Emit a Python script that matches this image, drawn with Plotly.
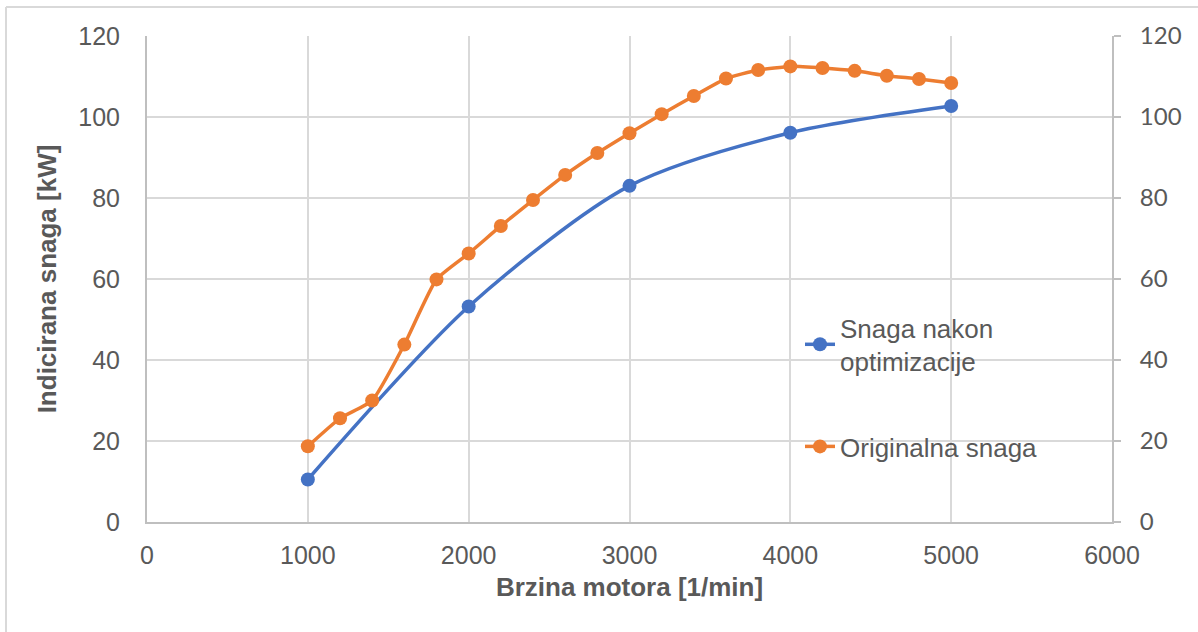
import plotly.graph_objects as go

# Engine speed [1/min] and indicated power [kW]
rpm_opt = [1000, 2000, 3000, 4000, 5000]
power_opt = [10.5, 53.2, 83.0, 96.1, 102.7]

rpm_orig = [1000, 1200, 1400, 1600, 1800, 2000, 2200, 2400, 2600, 2800, 3000,
            3200, 3400, 3600, 3800, 4000, 4200, 4400, 4600, 4800, 5000]
power_orig = [18.7, 25.6, 30.0, 43.8, 59.9, 66.3, 73.1, 79.5, 85.7, 91.1, 96.0,
              100.7, 105.2, 109.5, 111.6, 112.5, 112.1, 111.4, 110.2, 109.4, 108.4]

x_ticks = [0, 1000, 2000, 3000, 4000, 5000, 6000]
y_ticks = [0, 20, 40, 60, 80, 100, 120]

BLUE = "#4472C4"
ORANGE = "#ED7D31"
GRID = "#D9D9D9"
AXIS = "#BFBFBF"
TEXT = "#595959"
FONT = "Liberation Sans, Arial, sans-serif"

W, H = 1198, 632
L, R, T, B = 147, 86, 36, 110

fig = go.Figure()
fig.add_trace(go.Scatter(
    x=rpm_opt, y=power_opt, name="Snaga nakon<br>optimizacije",
    mode="lines+markers", line=dict(color=BLUE, width=3.5, shape="spline", smoothing=0.8),
    marker=dict(size=14, color=BLUE), legend="legend", showlegend=True))
fig.add_trace(go.Scatter(
    x=rpm_orig, y=power_orig, name="Originalna snaga", yaxis="y2",
    mode="lines+markers", line=dict(color=ORANGE, width=3.5, shape="spline", smoothing=0.5),
    marker=dict(size=14, color=ORANGE), legend="legend2", showlegend=True))

tickfont = dict(family=FONT, size=25, color=TEXT)
titlefont = dict(family=FONT, size=26, color=TEXT)
legfont = dict(family=FONT, size=26, color=TEXT)

pw = W - L - R
ph = H - T - B

def px_x(p):
    return (p - L) / pw

def px_y(p):
    return (H - B - p) / ph

fig.update_layout(
    width=W, height=H,
    margin=dict(l=L, r=R, t=T, b=B),
    paper_bgcolor="white", plot_bgcolor="white",
    font=dict(family=FONT, color=TEXT),
    showlegend=True,
    xaxis=dict(range=[0, 6000], tickvals=x_ticks, showgrid=True, gridcolor=GRID, gridwidth=2,
               showline=True, linecolor=AXIS, linewidth=2, zeroline=False,
               tickfont=tickfont, ticks="", ticklabelstandoff=10,
               title=dict(text="<b>Brzina motora [1/min]</b>", font=titlefont, standoff=10)),
    yaxis=dict(range=[0, 120], tickvals=y_ticks, showgrid=True, gridcolor=GRID, gridwidth=2,
               showline=True, linecolor=AXIS, linewidth=2, zeroline=False,
               tickfont=tickfont, ticks="", ticklabelstandoff=20,
               title=dict(text="<b>Indicirana snaga [kW]</b>", font=titlefont, standoff=14)),
    yaxis2=dict(range=[0, 120], tickvals=y_ticks, overlaying="y", side="right",
                showgrid=False, showline=True, linecolor=AXIS, linewidth=2, zeroline=False,
                ticks="outside", ticklen=7, tickcolor=AXIS, tickwidth=2,
                tickfont=dict(family="Lato, Liberation Sans, sans-serif", size=24, color=TEXT),
                ticklabelstandoff=14),
    legend=dict(x=px_x(800), y=px_y(304), xanchor="left", yanchor="top",
                bgcolor="rgba(0,0,0,0)", font=legfont, itemwidth=30),
    legend2=dict(x=px_x(800), y=px_y(423), xanchor="left", yanchor="top",
                 bgcolor="rgba(0,0,0,0)", font=legfont, itemwidth=30),
    shapes=[
        dict(type="line", xref="paper", yref="paper", x0=px_x(6), x1=px_x(1198),
             y0=px_y(7), y1=px_y(7), line=dict(color=GRID, width=2)),
        dict(type="line", xref="paper", yref="paper", x0=px_x(6), x1=px_x(6),
             y0=px_y(7), y1=px_y(632), line=dict(color=GRID, width=2)),
    ],
)

fig.write_html("out.html")
